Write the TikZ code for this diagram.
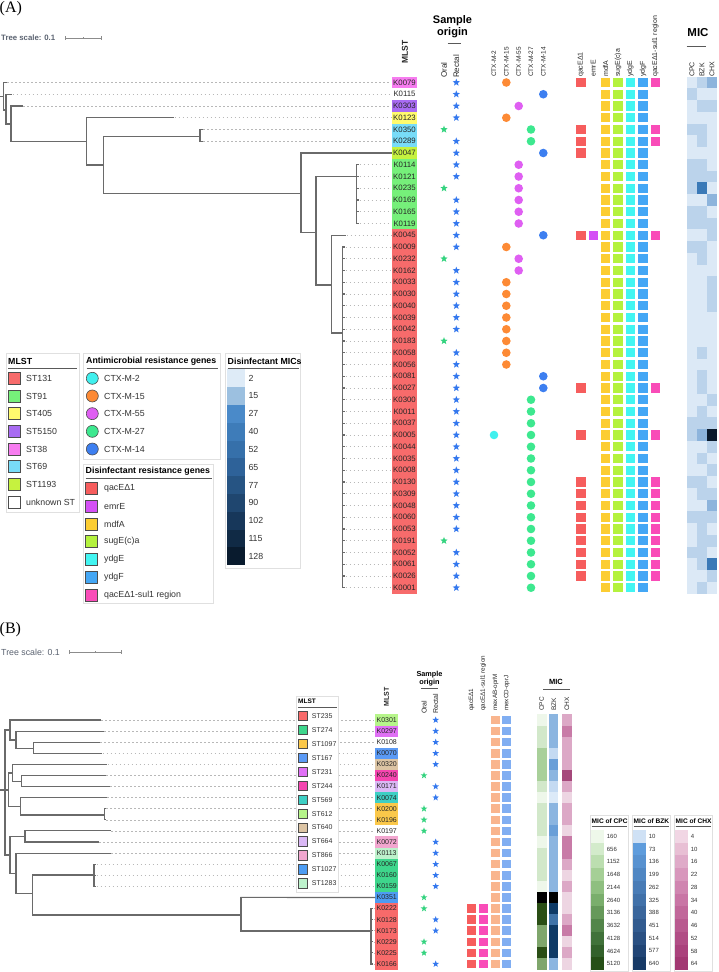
\documentclass[tikz,border=0pt]{standalone}
\usepackage{fontspec}
\setmainfont{Liberation Sans}
\newfontfamily\panelfont{Liberation Serif}
\usetikzlibrary{shapes.geometric}
\newcommand\myfs[1]{\fontsize{#1}{#1}\selectfont}
% MLST A
\definecolor{st131}{HTML}{F76B6B}
\definecolor{st91}{HTML}{76F07A}
\definecolor{st405}{HTML}{FFFB6E}
\definecolor{st5150}{HTML}{A86BF2}
\definecolor{st38}{HTML}{F77CF0}
\definecolor{st69}{HTML}{78DCF8}
\definecolor{st1193}{HTML}{C6F23F}
% CTX
\definecolor{cA}{HTML}{40F0EE}
\definecolor{cB}{HTML}{FD8A35}
\definecolor{cC}{HTML}{DF5FF2}
\definecolor{cD}{HTML}{3DE88F}
\definecolor{cE}{HTML}{3D7FF0}
% genes
\definecolor{gqac}{HTML}{F65D5D}
\definecolor{gemr}{HTML}{D44FF5}
\definecolor{gmdf}{HTML}{FCCD32}
\definecolor{gsug}{HTML}{B4F23E}
\definecolor{gydgE}{HTML}{42F5F2}
\definecolor{gydgF}{HTML}{44A7F5}
\definecolor{gsul}{HTML}{F94CB8}
\definecolor{gmexAB}{HTML}{F9B58E}
\definecolor{gmexCD}{HTML}{80AEF2}
% MIC A
\definecolor{mL}{HTML}{DCE9F6}
\definecolor{mM}{HTML}{BBD3EB}
\definecolor{mMM}{HTML}{8DB4DC}
\definecolor{mD}{HTML}{3A79B7}
\definecolor{mK}{HTML}{0A1A2C}
% stars
\definecolor{starG}{HTML}{34D37F}
\definecolor{starB}{HTML}{3478EE}
% tree
\definecolor{treegray}{HTML}{6A6A6A}
\definecolor{dashgray}{HTML}{B8B8B8}
\definecolor{scalegray}{HTML}{5A6270}
% MLST B
\definecolor{b235}{HTML}{F86A6A}
\definecolor{b274}{HTML}{3ED68C}
\definecolor{b1097}{HTML}{FBC84A}
\definecolor{b167}{HTML}{5B9AF5}
\definecolor{b231}{HTML}{E070F5}
\definecolor{b244}{HTML}{F545B0}
\definecolor{b569}{HTML}{3ECFC4}
\definecolor{b612}{HTML}{B6F58A}
\definecolor{b640}{HTML}{DCC4A4}
\definecolor{b664}{HTML}{DAB8F5}
\definecolor{b866}{HTML}{F2A6CF}
\definecolor{b1027}{HTML}{4D9CF2}
\definecolor{b1283}{HTML}{BDF2CC}
% MIC B
\definecolor{g1}{HTML}{EEF7EA}
\definecolor{g2}{HTML}{D2E8CA}
\definecolor{g3}{HTML}{A9D09A}
\definecolor{g4}{HTML}{7FA66C}
\definecolor{g5}{HTML}{2A4E15}
\definecolor{gK}{HTML}{000000}
\definecolor{bVL}{HTML}{DCEAF8}
\definecolor{bL}{HTML}{C4DAF2}
\definecolor{bM}{HTML}{8BB5E0}
\definecolor{bD}{HTML}{6A9FD8}
\definecolor{bN}{HTML}{0E3A66}
\definecolor{bNN}{HTML}{3F73A8}
\definecolor{bK}{HTML}{000000}
\definecolor{pVL}{HTML}{EDD5E2}
\definecolor{pL}{HTML}{DCA8C6}
\definecolor{pM}{HTML}{C87BA7}
\definecolor{pD}{HTML}{A5487B}

\tikzset{
 tree/.style={draw=treegray, line width=1.15pt, line cap=rect},
 leafdash/.style={draw=dashgray, line width=0.6pt, dash pattern=on 1.5pt off 2.5pt},
 labA/.style={inner sep=0pt, minimum width=25pt, minimum height=11.8pt, font=\myfs{7.8}, text=black!85},
 labB/.style={inner sep=0pt, minimum width=23.3pt, minimum height=11.15pt, font=\myfs{7}, text=black!85},
 starmark/.style={star, star points=5, star point ratio=2.4, inner sep=0pt, minimum size=7.8pt},
 rotlab/.style={rotate=90, anchor=west, inner sep=0pt, text=black!85},
 legbox/.style={draw=black!12, fill=white, line width=0.7pt},
 legrule/.style={draw=black!65, line width=1pt},
 legtitle/.style={anchor=west, inner sep=0pt, font=\bfseries\myfs{8.8}},
 legtext/.style={anchor=west, inner sep=0pt, font=\myfs{8.8}, text=black!80},
 swatch/.style={draw=black!70, line width=0.6pt},
 scalebar/.style={draw=black!45, line width=0.8pt},
}

\begin{document}
\begin{tikzpicture}[x=1pt,y=-1pt]
\useasboundingbox (0,0) rectangle (718,972);

% ================= PANEL A =================
\node[anchor=west, inner sep=0pt, font=\panelfont\myfs{16}] (pA) at (-0.5,8.5) {(A)};
\node[anchor=west, inner sep=0pt, font=\bfseries\myfs{7.8}, text=scalegray] (tsA) at (1,38) {Tree scale: 0.1};
\draw[scalebar] (65,38) -- (101.7,38) (65,36) -- (65,40) (101.7,36) -- (101.7,40) (83.3,37) -- (83.3,39);

% headers A
\node[rotlab, anchor=center, font=\bfseries\myfs{8.5}] (hmlstA) at (405,52) {MLST};
\node[align=center, inner sep=0pt, font=\bfseries\myfs{11}] (hsoA) at (452.5,26.5) {Sample\\[1.5pt]origin};
\draw[legrule] (447.5,43.3) -- (461,43.3);
\node[rotlab, font=\myfs{8}] (horA) at (444,78) {Oral};
\node[rotlab, font=\myfs{8}] (hreA) at (456.3,78) {Rectal};
\foreach \hx/\hlab [count=\kk] in {494/CTX-M-2, 506.3/CTX-M-15, 518.7/CTX-M-55, 531/CTX-M-27, 543.3/CTX-M-14}
  \node[rotlab, font=\myfs{6.5}] (hctx\kk) at (\hx,77) {\hlab};
\foreach \hx/\hlab [count=\kk] in {581/qacEΔ1, 593.3/emrE, 605.7/mdfA, 618/sugE(c)a, 630.3/ydgE, 643/ydgF, 655.3/qacEΔ1-sul1 region}
  \node[rotlab, font=\myfs{7}] (hgen\kk) at (\hx,77) {\hlab};
\node[inner sep=0pt, font=\bfseries\myfs{11.5}] (hmicA) at (698,33) {MIC};
\draw[legrule] (686.7,46.7) -- (706,46.7);
\foreach \hx/\hlab [count=\kk] in {692/CPC, 702/BZK, 712/CHX}
  \node[rotlab, font=\myfs{7}] (hmA\kk) at (\hx,77) {\hlab};

% rows A
\foreach \i/\vn/\vc/\vx/\vs/\vk/\vkx/\vq/\ve/\vu/\va/\vb/\vd in {
0/K0079/st38/456.3/starB/cB/506.3/1/0/1/mL/mM/mMM,
1/K0115/white/456.3/starB/cE/543.3/0/0/0/mM/mL/mL,
2/K0303/st5150/456.3/starB/cC/518.7/0/0/0/mL/mM/mM,
3/K0123/st405/456.3/starB/cB/506.3/0/0/0/mL/mL/mL,
4/K0350/st69/444/starG/cD/531/1/0/1/mM/mM/mL,
5/K0289/st69/456.3/starB/cD/531/1/0/1/mL/mM/mL,
6/K0047/st1193/456.3/starB/cE/543.3/1/0/0/mL/mL/mL,
7/K0114/st91/456.3/starB/cC/518.7/0/0/0/mM/mM/mL,
8/K0121/st91/456.3/starB/cC/518.7/0/0/0/mM/mM/mM,
9/K0235/st91/444/starG/cC/518.7/0/0/0/mM/mD/mL,
10/K0169/st91/456.3/starB/cC/518.7/0/0/0/mL/mL/mMM,
11/K0165/st91/456.3/starB/cC/518.7/0/0/0/mM/mM/mL,
12/K0119/st91/456.3/starB/cC/518.7/0/0/0/mM/mM/mM,
13/K0045/st131/456.3/starB/cE/543.3/1/1/1/mL/mL/mM,
14/K0009/st131/456.3/starB/cB/506.3/0/0/0/mM/mM/mL,
15/K0232/st131/444/starG/cC/518.7/0/0/0/mL/mM/mL,
16/K0162/st131/456.3/starB/cC/518.7/0/0/0/mL/mL/mL,
17/K0033/st131/456.3/starB/cB/506.3/0/0/0/mL/mL/mM,
18/K0030/st131/456.3/starB/cB/506.3/0/0/0/mL/mL/mM,
19/K0040/st131/456.3/starB/cB/506.3/0/0/0/mL/mL/mM,
20/K0039/st131/456.3/starB/cB/506.3/0/0/0/mL/mL/mL,
21/K0042/st131/456.3/starB/cB/506.3/0/0/0/mL/mL/mL,
22/K0183/st131/444/starG/cB/506.3/0/0/0/mL/mL/mL,
23/K0058/st131/456.3/starB/cB/506.3/0/0/0/mL/mM/mL,
24/K0056/st131/456.3/starB/cB/506.3/0/0/0/mL/mL/mL,
25/K0081/st131/456.3/starB/cE/543.3/0/0/0/mL/mM/mL,
26/K0027/st131/456.3/starB/cE/543.3/1/0/1/mL/mM/mL,
27/K0300/st131/456.3/starB/cD/531/0/0/0/mL/mL/mM,
28/K0011/st131/456.3/starB/cD/531/0/0/0/mL/mM/mL,
29/K0037/st131/456.3/starB/cD/531/0/0/0/mM/mM/mM,
30/K0005/st131/456.3/starB/cD/531/1/0/1/mM/mMM/mK,
31/K0044/st131/456.3/starB/cD/531/0/0/0/mL/mL/mM,
32/K0035/st131/456.3/starB/cD/531/0/0/0/mL/mM/mL,
33/K0008/st131/456.3/starB/cD/531/0/0/0/mL/mL/mM,
34/K0130/st131/456.3/starB/cD/531/1/0/1/mM/mM/mL,
35/K0309/st131/456.3/starB/cD/531/1/0/1/mL/mM/mM,
36/K0048/st131/456.3/starB/cD/531/1/0/1/mL/mL/mMM,
37/K0060/st131/456.3/starB/cD/531/1/0/1/mM/mM/mM,
38/K0053/st131/456.3/starB/cD/531/1/0/1/mL/mM/mL,
39/K0191/st131/444/starG/cD/531/1/0/1/mL/mM/mM,
40/K0052/st131/456.3/starB/cD/531/1/0/1/mM/mM/mL,
41/K0061/st131/456.3/starB/cD/531/1/0/1/mL/mM/mD,
42/K0026/st131/456.3/starB/cD/531/1/0/1/mL/mL/mM,
43/K0001/st131/456.3/starB/cD/531/0/0/0/mL/mM/mL} {
  \pgfmathsetmacro{\y}{82.5+11.75*\i}
  \node[labA, fill=\vc] (a\i) at (404.5,\y) {\vn};
  \node[starmark, fill=\vs] (sa\i) at (\vx,\y) {};
  \fill[\vk] (\vkx,\y) circle (4.3pt);
  \ifnum\vq=1 \fill[gqac] (581-4.6,\y-4.6) rectangle (581+4.6,\y+4.6); \fi
  \ifnum\ve=1 \fill[gemr] (593.3-4.6,\y-4.6) rectangle (593.3+4.6,\y+4.6); \fi
  \fill[gmdf] (605.7-4.6,\y-4.6) rectangle (605.7+4.6,\y+4.6);
  \fill[gsug] (618-4.6,\y-4.6) rectangle (618+4.6,\y+4.6);
  \fill[gydgE] (630.3-4.6,\y-4.6) rectangle (630.3+4.6,\y+4.6);
  \fill[gydgF] (643-4.6,\y-4.6) rectangle (643+4.6,\y+4.6);
  \ifnum\vu=1 \fill[gsul] (655.3-4.6,\y-4.6) rectangle (655.3+4.6,\y+4.6); \fi
  \fill[\va] (687,\y-5.875) rectangle (697,\y+5.875);
  \fill[\vb] (697,\y-5.875) rectangle (707,\y+5.875);
  \fill[\vd] (707,\y-5.875) rectangle (717,\y+5.875);
}
% extra CTX-M-2 in K0005
\fill[cA] (494,{82.5+11.75*30}) circle (4.3pt);

% tree A
\draw[tree] (0,96.7) -- (3.3,96.7) (3.3,82.5) -- (3.3,110) (3.3,82.5) -- (6,82.5);
\draw[tree] (3.3,110) -- (6,110) (6,94.25) -- (6,124) (6,94.25) -- (11.7,94.25);
\draw[tree] (6,124) -- (11,124) (11,106) -- (11,141.7) (11,106) -- (22,106);
\draw[tree] (11,141.7) -- (86.7,141.7) (86.7,117.75) -- (86.7,165) (86.7,117.75) -- (173.3,117.75);
\draw[tree] (86.7,165) -- (103.3,165) (103.3,136.7) -- (103.3,193.3);
\draw[tree] (103.3,136.7) -- (200,136.7) (200,129.5) -- (200,141.25) (200,129.5) -- (202,129.5) (200,141.25) -- (202,141.25);
\draw[tree] (103.3,193.3) -- (301,193.3) (301,153) -- (301,232.7);
\draw[tree] (301,153) -- (a6.west);
\draw[tree] (301,232.7) -- (316,232.7) (316,176.7) -- (316,285);
\draw[tree] (316,176.7) -- (356.7,176.7) (356.7,164.75) -- (356.7,223.5);
\draw[tree] (316,285) -- (331.5,285) (331.5,235.25) -- (331.5,333) (331.5,235.25) -- (345,235.25);
\draw[tree] (331.5,333) -- (342.7,333) (342.7,247) -- (342.7,587.75);
\foreach \i in {7,...,12} { \pgfmathsetmacro{\y}{82.5+11.75*\i} \draw[tree] (356.7,\y) -- (358.3,\y); }
\foreach \i in {14,...,43} { \pgfmathsetmacro{\y}{82.5+11.75*\i} \draw[tree] (342.7,\y) -- (344.3,\y); }
% dashes A
\foreach \i/\tx in {0/7,1/12.5,2/23,3/174.5,4/203,5/203,7/359.5,8/359.5,9/359.5,10/359.5,11/359.5,12/359.5,13/346.5,14/345.5,15/345.5,16/345.5,17/345.5,18/345.5,19/345.5,20/345.5,21/345.5,22/345.5,23/345.5,24/345.5,25/345.5,26/345.5,27/345.5,28/345.5,29/345.5,30/345.5,31/345.5,32/345.5,33/345.5,34/345.5,35/345.5,36/345.5,37/345.5,38/345.5,39/345.5,40/345.5,41/345.5,42/345.5,43/345.5} {
  \pgfmathsetmacro{\y}{82.5+11.75*\i}
  \draw[leafdash] (\tx,\y) -- ([xshift=-1pt]a\i.west);
}

% legends A
\draw[legbox] (6,353.3) rectangle (79,512.7);
\node[legtitle] (lmA) at (8,361) {MLST};
\draw[legrule] (8,368.3) -- (76.5,368.3);
\foreach \lc/\lt [count=\jj from 0] in {st131/ST131, st91/ST91, st405/ST405, st5150/ST5150, st38/ST38, st69/ST69, st1193/ST1193, white/unknown ST} {
  \pgfmathsetmacro{\y}{378.3+17.68*\jj}
  \draw[swatch, fill=\lc] (8.5,\y-6) rectangle (20.5,\y+6);
  \node[legtext] (lmA\jj) at (26,\y) {\lt};
}
\draw[legbox] (83.3,353.3) rectangle (220,459.3);
\node[legtitle] (laA) at (86,361) {Antimicrobial resistance genes};
\draw[legrule] (86.5,368.3) -- (218,368.3);
\foreach \lc/\lt [count=\jj from 0] in {cA/CTX-M-2, cB/CTX-M-15, cC/CTX-M-55, cD/CTX-M-27, cE/CTX-M-14} {
  \pgfmathsetmacro{\y}{378.3+17.68*\jj}
  \draw[swatch, fill=\lc] (92.3,\y) circle (6pt);
  \node[legtext] (laA\jj) at (104,\y) {\lt};
}
\draw[legbox] (83.3,464) rectangle (213.3,603.3);
\node[legtitle] (ldA) at (85.5,471.5) {Disinfectant resistance genes};
\draw[legrule] (85.5,478.3) -- (211.5,478.3);
\foreach \lc/\lt [count=\jj from 0] in {gqac/qacEΔ1, gemr/emrE, gmdf/mdfA, gsug/sugE(c)a, gydgE/ydgE, gydgF/ydgF, gsul/qacEΔ1-sul1 region} {
  \pgfmathsetmacro{\y}{488.3+17.78*\jj}
  \draw[swatch, fill=\lc] (85.3,\y-6) rectangle (97.5,\y+6);
  \node[legtext] (ldA\jj) at (104,\y) {\lt};
}
\draw[legbox] (225.3,353.3) rectangle (300.5,568);
\node[legtitle] (lmicA) at (227.5,361) {Disinfectant MICs};
\draw[legrule] (227.5,368.3) -- (298.5,368.3);
\foreach \lc/\lt [count=\jj from 0] in {DEEBF7/2, 9CC0E0/15, 4A8AC9/27, 3E7CB9/40, 3670AA/52, 2E6299/65, 265483/77, 1F466F/90, 17375A/102, 102A45/115, 091B2E/128} {
  \pgfmathsetmacro{\y}{369.3+17.8*\jj}
  \definecolor{tmpc}{HTML}{\lc}
  \fill[tmpc] (226.7,\y) rectangle (245,\y+17.8);
  \node[legtext] (lmicA\jj) at (248.3,\y+8.9) {\lt};
}

% ================= PANEL B =================
\node[anchor=west, inner sep=0pt, font=\panelfont\myfs{16}] (pB) at (-0.5,630) {(B)};
\node[anchor=west, inner sep=0pt, font=\myfs{8.8}, text=scalegray] (tsB) at (1,652.3) {Tree scale: 0.1};
\draw[scalebar] (69.4,652.3) -- (121.3,652.3) (69.4,650.3) -- (69.4,654.3) (121.3,650.3) -- (121.3,654.3) (95.3,651.3) -- (95.3,653.3);

% headers B
\node[rotlab, anchor=center, font=\bfseries\myfs{7}] (hmlstB) at (386.5,696.7) {MLST};
\node[align=center, inner sep=0pt, font=\bfseries\myfs{7.3}] (hsoB) at (429.5,678.3) {Sample\\[0.5pt]origin};
\draw[legrule, line width=0.8pt] (420.7,688.3) -- (438.3,688.3);
\node[rotlab, font=\myfs{7}] (horB) at (424,714) {Oral};
\node[rotlab, font=\myfs{7}] (hreB) at (435.7,714) {Rectal};
\foreach \hx/\hlab [count=\kk] in {471.7/qacEΔ1, 483.3/qacEΔ1-sul1 region, 495.7/mexAB-oprM, 506.7/mexCD-oprJ}
  \node[rotlab, font=\myfs{6.3}] (hgB\kk) at (\hx,711) {\hlab};
\node[inner sep=0pt, font=\bfseries\myfs{7.5}] (hmicB) at (556,682) {MIC};
\draw[legrule, line width=0.8pt] (543,689.3) -- (570,689.3);
\foreach \hx/\hlab [count=\kk] in {541.7/CPC, 553.8/BZK, 567/CHX}
  \node[rotlab, font=\myfs{6.5}] (hmB\kk) at (\hx,711) {\hlab};

% rows B
\foreach \i/\vn/\vc/\vx/\vs/\va/\vb/\vd/\vq in {
0/K0301/b612/435.7/starB/g1/bM/pL/0,
1/K0297/b231/435.7/starB/g2/bM/pM/0,
2/K0108/white/435.7/starB/g2/bM/pL/0,
3/K0070/b167/435.7/starB/g3/bL/pL/0,
4/K0320/b640/435.7/starB/g3/bD/pL/0,
5/K0240/b244/424/starG/g3/bM/pD/0,
6/K0171/b664/435.7/starB/g2/bL/pL/0,
7/K0074/b569/435.7/starB/g1/bVL/pVL/0,
8/K0200/b1097/424/starG/g2/bM/pL/0,
9/K0196/b1097/424/starG/g2/bM/pL/0,
10/K0197/white/424/starG/g2/bD/pVL/0,
11/K0072/b866/435.7/starB/g1/bM/pM/0,
12/K0113/b1283/435.7/starB/g2/bM/pM/0,
13/K0067/b274/435.7/starB/g2/bM/pL/0,
14/K0160/b274/435.7/starB/g2/bM/pVL/0,
15/K0159/b274/435.7/starB/g1/bM/pL/0,
16/K0351/b1027/424/starG/gK/bK/pVL/0,
17/K0222/b235/424/starG/g5/bN/pVL/1,
18/K0128/b235/435.7/starB/g5/bNN/pL/1,
19/K0173/b235/435.7/starB/g4/bN/pM/1,
20/K0229/b235/424/starG/g4/bN/pVL/1,
21/K0225/b235/424/starG/g5/bN/pL/1,
22/K0166/b235/435.7/starB/g4/bM/pVL/1} {
  \pgfmathsetmacro{\y}{720+11.09*\i}
  \node[labB, fill=\vc] (b\i) at (386.7,\y) {\vn};
  \node[starmark, minimum size=7pt, fill=\vs] (sb\i) at (\vx,\y) {};
  \ifnum\vq=1
    \fill[gqac] (471.7-4.3,\y-4.3) rectangle (471.7+4.3,\y+4.3);
    \fill[gsul] (483.3-4.3,\y-4.3) rectangle (483.3+4.3,\y+4.3);
  \fi
  \fill[gmexAB] (495.7-4.3,\y-4.3) rectangle (495.7+4.3,\y+4.3);
  \fill[gmexCD] (506.7-4.3,\y-4.3) rectangle (506.7+4.3,\y+4.3);
  \fill[\va] (536.7,\y-5.545) rectangle (546.7,\y+5.545);
  \fill[\vb] (549.3,\y-5.545) rectangle (558.3,\y+5.545);
  \fill[\vd] (562.3,\y-5.545) rectangle (571.7,\y+5.545);
}

% tree B
\draw[tree] (1,790) -- (5,790) (5,730) -- (5,855);
\draw[tree] (5,730) -- (10,730) (10,720) -- (10,740) (10,720) -- (100,720);
\draw[tree] (10,740) -- (16,740) (16,731.1) -- (16,748.3) (16,731.1) -- (103.3,731.1);
\draw[tree] (16,748.3) -- (33.3,748.3) (33.3,742.2) -- (33.3,753.3) (33.3,742.2) -- (99.3,742.2) (33.3,753.3) -- (101.7,753.3);
\draw[tree] (5,790) -- (8.3,790) (8.3,773) -- (8.3,806.7);
\draw[tree] (8.3,773) -- (12.7,773) (12.7,764.4) -- (12.7,781.7) (12.7,764.4) -- (106.7,764.4);
\draw[tree] (12.7,781.7) -- (21.7,781.7) (21.7,775.5) -- (21.7,786.5) (21.7,775.5) -- (105,775.5) (21.7,786.5) -- (109.3,786.5);
\draw[tree] (8.3,806.7) -- (20.7,806.7) (20.7,797.6) -- (20.7,815) (20.7,797.6) -- (106,797.6);
\draw[tree] (20.7,815) -- (104.3,815) (104.3,808.7) -- (104.3,819.8) (104.3,808.7) -- (105.3,808.7) (104.3,819.8) -- (105.3,819.8);
\draw[tree] (5,855) -- (10,855) (10,836.7) -- (10,873.3);
\draw[tree] (10,836.7) -- (25,836.7) (25,830.9) -- (25,842) (25,830.9) -- (110,830.9) (25,842) -- (98.3,842);
\draw[tree] (10,873.3) -- (16,873.3) (16,853.1) -- (16,893.3) (16,853.1) -- (110,853.1);
\draw[tree] (16,893.3) -- (32.7,893.3) (32.7,875) -- (32.7,915);
\draw[tree] (32.7,875) -- (94,875) (94,864.2) -- (94,886.4);
\draw[tree] (32.7,915) -- (241,915) (241,897.4) -- (241,931);
\draw[tree] (241,897.4) -- (b16.west);
\draw[tree] (241,931) -- (371,931) (371,908.5) -- (371,964);
\foreach \i in {13,14,15} { \pgfmathsetmacro{\y}{720+11.09*\i} \draw[tree] (94,\y) -- (95.3,\y); }
\foreach \i in {17,...,22} { \pgfmathsetmacro{\y}{720+11.09*\i} \draw[tree] (371,\y) -- (372.5,\y); }
% dashes B
\foreach \i/\tx in {0/101,1/104.3,2/100.3,3/102.7,4/107.7,5/106,6/110.3,7/107,8/106.3,9/106.3,10/111,11/99.3,12/111,13/96.5,14/96.5,15/96.5,17/373.5,18/373.5,19/373.5,20/373.5,21/373.5,22/373.5} {
  \pgfmathsetmacro{\y}{720+11.09*\i}
  \draw[leafdash] (\tx,\y) -- ([xshift=-0.8pt]b\i.west);
}

% legend B MLST
\draw[legbox] (296,696.7) rectangle (338.3,892.3);
\node[legtitle, font=\bfseries\myfs{6.5}] (lmB) at (298,701.7) {MLST};
\draw[legrule, line width=0.8pt] (298,707.7) -- (336.5,707.7);
\foreach \lc/\lt [count=\jj from 0] in {b235/ST235, b274/ST274, b1097/ST1097, b167/ST167, b231/ST231, b244/ST244, b569/ST569, b612/ST612, b640/ST640, b664/ST664, b866/ST866, b1027/ST1027, b1283/ST1283} {
  \pgfmathsetmacro{\y}{716+13.94*\jj}
  \draw[swatch, fill=\lc] (298.3,\y-4.7) rectangle (307.3,\y+4.7);
  \node[legtext, font=\myfs{7}] (lmB\jj) at (311.7,\y) {\lt};
}

% legends B MIC
\foreach \bx/\mtit/\clist [count=\mm] in {590.5/CPC/{EEF8EA/160,D3EBCB/656,BCDEB0/1152,A5CF96/1648,8FBF80/2144,7AAE6C/2640,66995A/3136,53854A/3632,41723A/4128,33612B/4624,264F17/5120},
  632.5/BZK/{CFE1F5/10,5E9CDC/73,5892D0/136,5087C3/199,497CB6/262,4171A9/325,3A669C/388,325B8F/451,2A5082/514,214575/577,173A66/640},
  674.5/CHX/{F1D6E4/4,E8BFD4/10,DFAAC8/16,D897BC/22,D085B0/28,C975A5/34,C1679A/40,B95A8F/46,B14D85/52,AA427C/58,A23872/64}} {
  \draw[legbox] (\bx,815) rectangle (\bx+38,971.5);
  \node[legtitle, font=\bfseries\myfs{6.6}] (lmic\mm) at (\bx+1,820.7) {MIC of \mtit};
  \draw[legrule, line width=0.8pt] (\bx+1.2,826) -- (\bx+36.5,826);
  \foreach \lc/\lt [count=\jj from 0] in \clist {
    \pgfmathsetmacro{\y}{830+12.73*\jj}
    \definecolor{tmpc}{HTML}{\lc}
    \fill[tmpc] (\bx+0.5,\y) rectangle (\bx+13.5,\y+12.73);
    \node[legtext, font=\myfs{6}] (lv\mm-\jj) at (\bx+16.2,\y+6.36) {\lt};
  }
}
\end{tikzpicture}
\end{document}
